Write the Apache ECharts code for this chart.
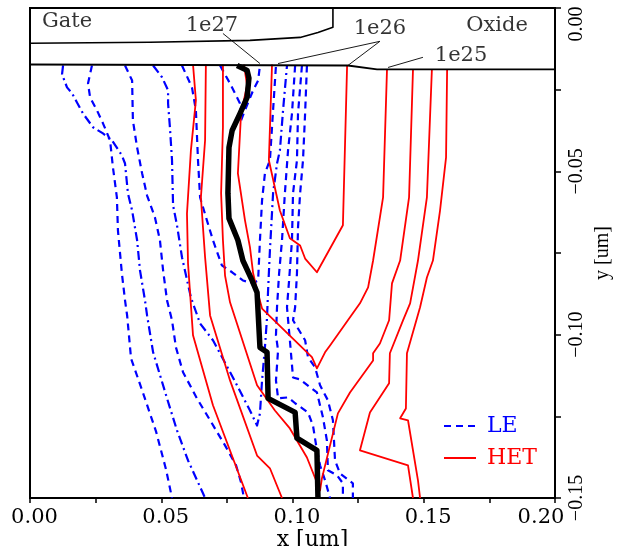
<!DOCTYPE html>
<html><head><meta charset="utf-8">
<script src="https://cdn.jsdelivr.net/npm/echarts@6/dist/echarts.min.js"></script>
<style>html,body{margin:0;padding:0;background:#fff}#c{width:620px;height:546px}</style>
</head><body><div id="c"></div>
<script>
// ---- axis ticks ----
const xTicks = [0, 0.05, 0.10, 0.15, 0.20];
const yTicks = [0, -0.05, -0.10, -0.15];

// ---- HET contours (red, solid) ----
const het1 = [[0.0621,-0.0173],[0.0632,-0.0283],[0.0613,-0.0436],[0.0598,-0.0629],[0.0602,-0.0782],[0.0621,-0.1002],[0.0697,-0.1216],[0.0830,-0.15]];
const het2 = [[0.0670,-0.0173],[0.0667,-0.0405],[0.0651,-0.0580],[0.0667,-0.0763],[0.0686,-0.0941],[0.0762,-0.1140],[0.0865,-0.1370],[0.0914,-0.1409],[0.0960,-0.15]];
const het3 = [[0.0735,-0.0173],[0.0735,-0.0365],[0.0728,-0.0567],[0.0735,-0.0711],[0.0743,-0.0819],[0.0762,-0.0901],[0.0865,-0.1155],[0.0933,-0.1232],[0.0990,-0.1287],[0.1055,-0.1376],[0.1105,-0.1477],[0.1112,-0.1440],[0.1143,-0.1339],[0.1173,-0.1241],[0.1219,-0.1177],[0.1307,-0.1079],[0.1307,-0.1057],[0.1333,-0.1027],[0.1368,-0.0956],[0.1379,-0.0843],[0.1410,-0.0773],[0.1444,-0.0580],[0.1459,-0.0188]];
const het4 = [[0.0815,-0.0173],[0.0827,-0.0237],[0.0804,-0.0323],[0.0792,-0.0506],[0.0819,-0.0650],[0.0838,-0.0733],[0.0850,-0.0812],[0.0865,-0.0864],[0.0884,-0.0920],[0.1074,-0.1069],[0.1093,-0.1103],[0.1124,-0.1054],[0.1143,-0.1033],[0.1211,-0.0956],[0.1257,-0.0904],[0.1288,-0.0855],[0.1307,-0.0773],[0.1345,-0.0580],[0.1360,-0.0188]];
const het5 = [[0.0922,-0.0173],[0.0910,-0.0466],[0.0952,-0.0620],[0.0990,-0.0705],[0.1029,-0.0727],[0.1048,-0.0767],[0.1093,-0.0809],[0.1192,-0.0665],[0.1208,-0.0176]];
const het6 = [[0.1531,-0.0188],[0.1512,-0.0580],[0.1478,-0.0773],[0.1448,-0.0904],[0.1421,-0.0956],[0.1371,-0.1057],[0.1368,-0.1149],[0.1295,-0.1238],[0.1257,-0.1354],[0.1440,-0.1400],[0.1459,-0.15]];
const het7 = [[0.1589,-0.0188],[0.1585,-0.0457],[0.1562,-0.0620],[0.1535,-0.0773],[0.1512,-0.0825],[0.1486,-0.0916],[0.1436,-0.1057],[0.1432,-0.1226],[0.1410,-0.1256],[0.1440,-0.1262],[0.1478,-0.1446],[0.1486,-0.15]];

// ---- LE contours (blue, dashed) ----
const le1 = [[0.0236,-0.0176],[0.0221,-0.0231],[0.0229,-0.0274],[0.0255,-0.0313],[0.0278,-0.0353],[0.0305,-0.0405],[0.0316,-0.0488],[0.0331,-0.0580],[0.0335,-0.0681],[0.0350,-0.0812],[0.0362,-0.0895],[0.0370,-0.0941],[0.0385,-0.1073],[0.0430,-0.1177],[0.0480,-0.1296],[0.0518,-0.1412],[0.0541,-0.15]];
const le2 = [[0.0126,-0.0176],[0.0122,-0.0203],[0.0141,-0.0243],[0.0160,-0.0261],[0.0179,-0.0289],[0.0202,-0.0323],[0.0240,-0.0365],[0.0278,-0.0384],[0.0312,-0.0405],[0.0350,-0.0451],[0.0362,-0.0476],[0.0373,-0.0567],[0.0389,-0.0620],[0.0408,-0.0711],[0.0419,-0.0803],[0.0438,-0.0895],[0.0446,-0.0941],[0.0469,-0.1054],[0.0522,-0.1195],[0.0560,-0.1293],[0.0602,-0.1385],[0.0640,-0.1452],[0.0667,-0.15]];
const le3 = [[0.0362,-0.0176],[0.0389,-0.0222],[0.0392,-0.0344],[0.0408,-0.0427],[0.0427,-0.0506],[0.0446,-0.0574],[0.0476,-0.0641],[0.0495,-0.0711],[0.0507,-0.0803],[0.0522,-0.0895],[0.0541,-0.0956],[0.0556,-0.1039],[0.0583,-0.1115],[0.0636,-0.1195],[0.0686,-0.1262],[0.0743,-0.1339],[0.0785,-0.1400],[0.0804,-0.1452],[0.0815,-0.15]];
const le4 = [[0.0469,-0.0176],[0.0503,-0.0212],[0.0526,-0.0252],[0.0526,-0.0292],[0.0533,-0.0365],[0.0541,-0.0466],[0.0545,-0.0604],[0.0560,-0.0665],[0.0579,-0.0763],[0.0613,-0.0886],[0.0648,-0.0966],[0.0697,-0.1017],[0.0773,-0.1131],[0.0838,-0.1232],[0.0865,-0.1278],[0.0876,-0.1241],[0.0884,-0.1140],[0.0895,-0.1039],[0.0903,-0.0947],[0.0907,-0.0864],[0.0914,-0.0742],[0.0926,-0.0567],[0.0941,-0.0476],[0.0952,-0.0436],[0.0964,-0.0313],[0.0979,-0.0176]];
const le5 = [[0.0579,-0.0176],[0.0617,-0.0243],[0.0632,-0.0313],[0.0640,-0.0466],[0.0648,-0.0580],[0.0674,-0.0650],[0.0697,-0.0711],[0.0731,-0.0788],[0.0770,-0.0809],[0.0811,-0.0834],[0.0850,-0.0843],[0.0869,-0.0834],[0.0876,-0.0711],[0.0884,-0.0589],[0.0895,-0.0506],[0.0914,-0.0466],[0.0926,-0.0313],[0.0937,-0.0176]];
const le6 = [[0.0724,-0.0176],[0.0762,-0.0231],[0.0800,-0.0292],[0.0804,-0.0344],[0.0819,-0.0313],[0.0850,-0.0252],[0.0869,-0.0222],[0.0876,-0.0176]];
const le7 = [[0.1010,-0.0176],[0.0998,-0.0323],[0.0983,-0.0436],[0.0971,-0.0567],[0.0960,-0.0711],[0.0949,-0.0812],[0.0941,-0.0916],[0.0937,-0.1002],[0.0945,-0.1048],[0.0937,-0.1140],[0.0945,-0.1195],[0.0983,-0.1192],[0.1010,-0.1210],[0.1059,-0.1238],[0.1078,-0.1278],[0.1090,-0.1339],[0.1105,-0.1400],[0.1124,-0.1446],[0.1143,-0.15]];
const le8 = [[0.1036,-0.0176],[0.1021,-0.0323],[0.1017,-0.0466],[0.1002,-0.0567],[0.0998,-0.0711],[0.0987,-0.0834],[0.0979,-0.0916],[0.0990,-0.1017],[0.1002,-0.1131],[0.1029,-0.1137],[0.1067,-0.1161],[0.1093,-0.1177],[0.1116,-0.1253],[0.1131,-0.1324],[0.1135,-0.1415],[0.1170,-0.1431],[0.1192,-0.1455],[0.1192,-0.15]];
const le9 = [[0.1055,-0.0176],[0.1048,-0.0323],[0.1040,-0.0466],[0.1029,-0.0567],[0.1021,-0.0672],[0.1017,-0.0812],[0.1010,-0.0916],[0.1002,-0.0956],[0.1048,-0.1017],[0.1059,-0.1069],[0.1086,-0.1100],[0.1105,-0.1155],[0.1135,-0.1201],[0.1154,-0.1262],[0.1162,-0.1385],[0.1181,-0.1425],[0.1230,-0.1455],[0.1230,-0.15]];

// ---- thick black boundary ----
const junction = [[0.0789,-0.0176],[0.0827,-0.0191],[0.0834,-0.0215],[0.0827,-0.0274],[0.0800,-0.0323],[0.0770,-0.0375],[0.0758,-0.0427],[0.0754,-0.0567],[0.0758,-0.0644],[0.0792,-0.0711],[0.0811,-0.0773],[0.0846,-0.0834],[0.0865,-0.0871],[0.0876,-0.1039],[0.0903,-0.1054],[0.0907,-0.1195],[0.1010,-0.1238],[0.1017,-0.1317],[0.1093,-0.1354],[0.1097,-0.15]];

// ---- structure outlines ----
const gateEdge = [[0,-0.0108],[0.0457,-0.0105],[0.0838,-0.0099],[0.1029,-0.0090],[0.1097,-0.0075],[0.1154,-0.0059],[0.1154,0]];
const oxideEdge = [[0,-0.0173],[0.1211,-0.0176],[0.1322,-0.0188],[0.2,-0.0188]];

// ---- annotations ----
const labelNames = ['Gate','1e27','1e26','Oxide','1e25'];
const labelPos = [[0.0141,-0.0041],[0.0693,-0.0053],[0.1333,-0.0062],[0.1779,-0.0053],[0.1642,-0.0145]];
const leader27 = [[0.0735,-0.0078],[0.0876,-0.0170]];
const leader26 = [[0.0945,-0.0170],[0.1333,-0.0102],[0.1211,-0.0176]];
const leader25 = [[0.1364,-0.0182],[0.1497,-0.0151]];

const SERIF = 'DejaVu Serif';
const TIMES = 'Liberation Serif';
const BLUE = '#0000ff', RED = '#ff0000';

function lineSeries(name, data, color, width, dash) {
  return {
    name: name, type: 'line', data: data, symbol: 'none', showSymbol: false,
    smooth: false, clip: true, silent: true, z: name === 'HET' ? 3 : 2,
    lineStyle: { color: color, width: width, type: dash || 'solid', cap: 'butt', join: 'round' },
    itemStyle: { color: color },
    emphasis: { disabled: true }
  };
}
const dashA = [7, 5];
const dashB = [9, 4, 2, 4];

const series = [];
// first LE series defines the legend icon
series.push(lineSeries('LE', le1, BLUE, 2.2, dashA));
series.push(lineSeries('HET', het1, RED, 1.8));
[le2, le4].forEach(d => series.push(lineSeries('LE', d, BLUE, 2.2, dashB)));
[le3, le5, le6, le7, le8, le9].forEach(d => series.push(lineSeries('LE', d, BLUE, 2.2, dashA)));
[het2, het3, het4, het5, het6, het7].forEach(d => series.push(lineSeries('HET', d, RED, 1.8)));
series.push(Object.assign(lineSeries('junction', junction, '#000', 5.5), { z: 5 }));
series.push(Object.assign(lineSeries('gate', gateEdge, '#000', 1.6), { z: 6 }));
series.push(Object.assign(lineSeries('oxide', oxideEdge, '#000', 1.8), { z: 6 }));
[leader27, leader26, leader25].forEach(d => series.push(Object.assign(lineSeries('leader', d, '#000', 0.9), { z: 6 })));
series.push({
  name: 'labels', type: 'scatter', silent: true, symbolSize: 1, z: 7,
  itemStyle: { color: 'rgba(0,0,0,0)' },
  data: labelNames.map((n, i) => ({ name: n, value: labelPos[i] })),
  label: { show: true, position: 'inside', formatter: p => p.name,
           fontFamily: SERIF, fontSize: 21, color: '#000' }
});

const near = (a, b) => Math.abs(a - b) < 1e-9;
const fmtY = v => (v < -1e-12 ? '\u2212' : '') + Math.abs(v).toFixed(2);

const option = {
  animation: false,
  backgroundColor: '#fff',
  grid: { left: 30, right: 65, top: 8, bottom: 48, show: true, borderColor: '#000', borderWidth: 2,
          backgroundColor: 'rgba(0,0,0,0)', containLabel: false, outerBoundsMode: 'none' },
  legend: {
    show: true, orient: 'vertical', left: 438, top: 410, itemWidth: 32, itemHeight: 14, itemGap: 10,
    data: [ { name: 'LE', textStyle: { color: BLUE } }, { name: 'HET', textStyle: { color: RED } } ],
    itemStyle: { opacity: 0 },
    textStyle: { fontFamily: SERIF, fontSize: 22, padding: [0, 0, 0, 6] },
    selectedMode: false
  },
  xAxis: {
    type: 'value', min: xTicks[0], max: xTicks[xTicks.length - 1], interval: xTicks[1] - xTicks[0],
    position: 'bottom',
    name: 'x [um]', nameLocation: 'middle', nameGap: 31, nameMoveOverlap: false,
    nameTextStyle: { fontFamily: SERIF, fontSize: 22, color: '#000', padding: [0, 0, 0, 40] },
    axisLine: { show: true, onZero: false, lineStyle: { color: '#000', width: 2 } },
    axisTick: { show: true, inside: false, length: 5, lineStyle: { color: '#000', width: 1.5 } },
    minorTick: { show: true, splitNumber: 2, length: 5, lineStyle: { color: '#000', width: 1.5 } },
    splitLine: { show: false }, minorSplitLine: { show: false },
    axisLabel: {
      show: true, margin: 9, color: '#000', fontFamily: SERIF, fontSize: 21, hideOverlap: false,
      showMinLabel: true, showMaxLabel: true,
      formatter: v => near(v, xTicks[xTicks.length - 1]) ? '{r|' + v.toFixed(2) + '}' : '{n|' + v.toFixed(2) + '}',
      rich: {
        n: { fontFamily: SERIF, fontSize: 21, color: '#000', padding: [0, 0, 0, 9] },
        r: { fontFamily: SERIF, fontSize: 21, color: '#000', padding: [0, 28, 0, 0] }
      }
    }
  },
  yAxis: {
    type: 'value', min: yTicks[yTicks.length - 1], max: yTicks[0], interval: yTicks[0] - yTicks[1],
    position: 'right',
    name: 'y [um]', nameLocation: 'middle', nameRotate: 90, nameGap: 38, nameMoveOverlap: false,
    nameTextStyle: { fontFamily: TIMES, fontSize: 20, color: '#000' },
    axisLine: { show: true, onZero: false, lineStyle: { color: '#000', width: 2 } },
    axisTick: { show: true, inside: false, length: 6, lineStyle: { color: '#000', width: 1.5 } },
    minorTick: { show: true, splitNumber: 2, length: 6, lineStyle: { color: '#000', width: 1.5 } },
    splitLine: { show: false }, minorSplitLine: { show: false },
    axisLabel: {
      show: true, rotate: 90, margin: 12, color: '#000', fontFamily: TIMES, fontSize: 20, hideOverlap: false,
      showMinLabel: true, showMaxLabel: true,
      formatter: v => near(v, yTicks[0]) ? '{a|' + fmtY(v) + '}' : '{b|' + fmtY(v) + '}',
      rich: {
        a: { fontFamily: TIMES, fontSize: 20, color: '#000', padding: [0, 32, 0, 0] },
        b: { fontFamily: TIMES, fontSize: 20, color: '#000' }
      }
    }
  },
  series: series
};

const chart = echarts.init(document.getElementById('c'), null, { renderer: 'canvas' });
chart.setOption(option);
</script>
</body></html>
